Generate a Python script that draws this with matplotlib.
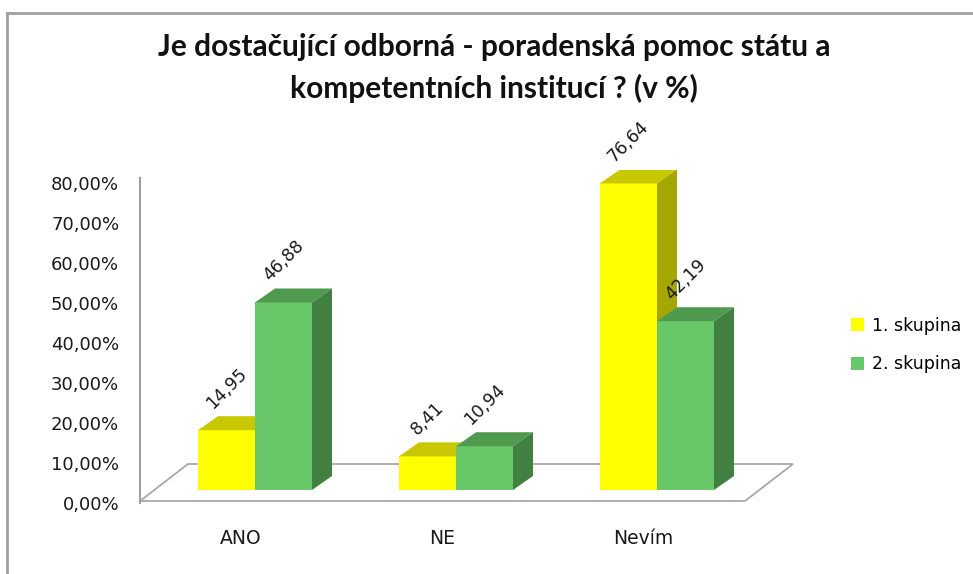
import matplotlib
matplotlib.use("Agg")
import matplotlib.pyplot as plt
from matplotlib.patches import Polygon, Patch
from matplotlib.lines import Line2D
from matplotlib.transforms import ScaledTranslation

# data
categories = ["ANO", "NE", "Nevím"]
series_names = ["1. skupina", "2. skupina"]
group1 = [14.95, 8.41, 76.64]
group2 = [46.88, 10.94, 42.19]
ytick_vals = [0, 10, 20, 30, 40, 50, 60, 70, 80]

# colours: front, top, side
colors = [
    ("#ffff00", "#c8c800", "#a6a600"),
    ("#68c768", "#4f9a4f", "#428042"),
]

W, H = 973, 574
fig = plt.figure(figsize=(W / 100, H / 100), dpi=100)
plt.rcParams["font.family"] = "DejaVu Sans"

# axes placed in pixel terms
ax_l, ax_r = 140, 793
ax_t, ax_b = 170, 503
ax = fig.add_axes([ax_l / W, 1 - ax_b / H, (ax_r - ax_l) / W, (ax_b - ax_t) / H])
px_x = 201.0          # pixels per category
px_y = 4.0            # pixels per percent
x0_px = 255           # pixel of category 0
ax.set_xlim((ax_l - x0_px) / px_x, (ax_r - x0_px) / px_x)
ax.set_ylim(-(ax_b - 490) / px_y, 80)
ax.set_facecolor("none")
xl = ax.get_xlim()

width = 57 / px_x
bdx, bdy = 20 / px_x, 14 / px_y      # bar depth
fdx, fdy = 48 / px_x, 37 / px_y      # floor depth
floor_front = -11 / px_y

# floor
floor_right = xl[1] - fdx
floor = Polygon([(xl[0], floor_front), (floor_right, floor_front),
                 (xl[1], floor_front + fdy), (xl[0] + fdx, floor_front + fdy)],
                closed=True, facecolor="white", edgecolor="#a8a8a8", lw=1.3,
                zorder=1, clip_on=False)
ax.add_patch(floor)

# 3d-looking bars
for si, vals in enumerate([group1, group2]):
    front, top, side = colors[si]
    z = 2 + si
    xs = [i + (si - 1) * width for i in range(len(categories))]
    ax.bar(xs, vals, width=width, align="edge", color=front, zorder=z,
           linewidth=0)
    for x, v in zip(xs, vals):
        ax.add_patch(Polygon([(x, v), (x + width, v), (x + width + bdx, v + bdy),
                              (x + bdx, v + bdy)], closed=True, facecolor=top,
                             lw=0, zorder=z))
        ax.add_patch(Polygon([(x + width, 0), (x + width + bdx, bdy),
                              (x + width + bdx, v + bdy), (x + width, v)],
                             closed=True, facecolor=side, lw=0, zorder=z))
        ax.text(x + width / 2, v + 4.5, f"{v:.2f}".replace(".", ","),
                rotation=45, ha="center", va="bottom", fontsize=12.5,
                color="#1a1a1a", zorder=5)

# axes styling
for s in ["top", "right", "bottom"]:
    ax.spines[s].set_visible(False)
ax.spines["left"].set_color("#a0a0a0")
ax.spines["left"].set_linewidth(1.5)
ax.spines["left"].set_bounds(ax.get_ylim()[0], 78)

ax.set_yticks(ytick_vals)
ax.set_yticklabels([f"{v},00%" for v in ytick_vals])
ax.tick_params(axis="y", length=0, pad=15, labelsize=13, labelcolor="#1a1a1a")
shift_y = ScaledTranslation(0, -13 / 100, fig.dpi_scale_trans)
for lab in ax.get_yticklabels():
    lab.set_transform(lab.get_transform() + shift_y)

ax.set_xticks(range(len(categories)))
ax.set_xticklabels(categories)
ax.tick_params(axis="x", length=0, pad=19, labelsize=13.5, labelcolor="#1a1a1a")
shift_x = ScaledTranslation(-14 / 100, 0, fig.dpi_scale_trans)
for lab in ax.get_xticklabels():
    lab.set_transform(lab.get_transform() + shift_x)

# legend
handles = [Patch(facecolor=c[0], edgecolor="none") for c in colors]
fig.legend(handles, series_names, loc="center left",
           bbox_to_anchor=(835 / W, 1 - 345 / H), frameon=False,
           fontsize=12.5, handlelength=0.75, handleheight=0.75,
           handletextpad=0.5, labelspacing=1.2)

# title
fig.text(494 / W, 1 - 68 / H,
         "Je dostačující odborná - poradenská pomoc státu a\n"
         "kompetentních institucí ? (v %)",
         ha="center", va="center", fontsize=21.5, fontweight="bold",
         family=["Lato", "DejaVu Sans"],
         linespacing=1.5, color="#111111")

# chart border (left and top)
fig.add_artist(Line2D([7 / W, 7 / W], [0, 1 - 13 / H], transform=fig.transFigure,
                      color="#a0a0a0", lw=2))
fig.add_artist(Line2D([7 / W, 1], [1 - 13 / H, 1 - 13 / H],
                      transform=fig.transFigure, color="#a0a0a0", lw=2))

fig.savefig("out.png", dpi=100)
